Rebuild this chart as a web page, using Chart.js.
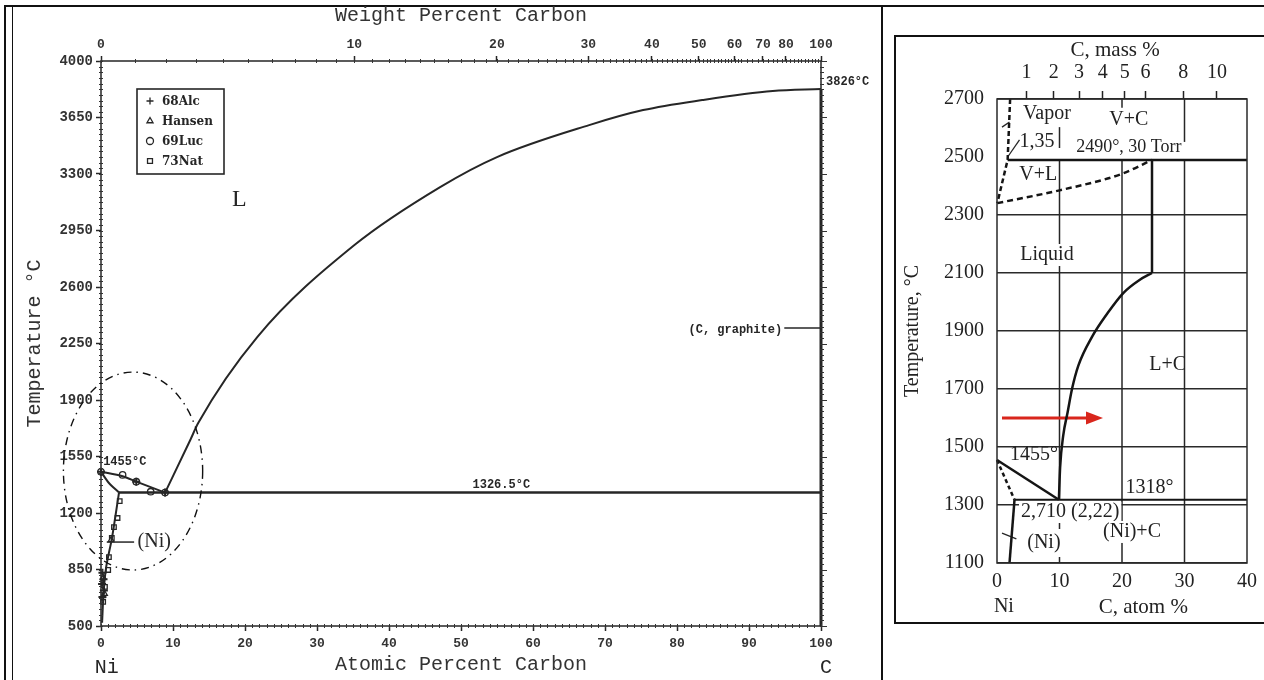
<!DOCTYPE html>
<html>
<head>
<meta charset="utf-8">
<title>Ni–C phase diagram</title>
<script src="https://cdn.jsdelivr.net/npm/chart.js@4.4.1/dist/chart.umd.min.js"></script>
<style>
  html, body { margin: 0; padding: 0; background: #fff; }
  body { width: 1264px; height: 680px; position: relative; overflow: hidden; }
  .rule { position: absolute; background: #111; }
  canvas { position: absolute; }
  #full { left: 14px; top: 0; filter: blur(0.45px); }
  #zoomed { left: 896px; top: 37px; }
  #zoomBox { position: absolute; left: 894px; top: 35px; width: 400px; height: 589px;
             box-sizing: border-box; border: 2px solid #111; border-right: none; }
</style>
</head>
<body>
<div class="rule" style="left:4px;top:5px;width:1260px;height:2px"></div>
<div class="rule" style="left:4px;top:5px;width:2px;height:675px"></div>
<div class="rule" style="left:12px;top:5px;width:1px;height:675px"></div>
<div class="rule" style="left:881px;top:5px;width:2px;height:675px"></div>
<div id="zoomBox"></div>
<canvas id="full" width="866" height="680"></canvas>
<canvas id="zoomed" width="368" height="585"></canvas>
<script>
// ---------- full diagram: atomic % C vs temperature (°C) ----------
const weightTicks = [0, 10, 20, 30, 40, 50, 60, 70, 80, 100];
const NI_MELT = 1455;
const EUTECTIC_FULL = 1326.5;
const GRAPHITE_MELT = 3826;

const liquidusGraphite = [[8.9, EUTECTIC_FULL], [12.4, 1652], [13.5, 1757], [21.7, 2290],
  [35.2, 2860], [47.1, 3219], [55, 3405], [67.8, 3603], [75.3, 3696], [83.5, 3758], [93.3, 3814], [100, GRAPHITE_MELT]];
const liquidusNi = [[0, NI_MELT], [3.0, 1428], [4.9, 1394], [8.9, EUTECTIC_FULL]];
const solidusNi = [[0, NI_MELT], [1.1, 1386], [2.5, EUTECTIC_FULL]];
const solvusNi = [[2.5, EUTECTIC_FULL], [2.0, 1180], [1.5, 1040], [0.7, 860], [0.35, 700], [0.15, 520]];
const eutecticFull = [[2.5, EUTECTIC_FULL], [100, EUTECTIC_FULL]];
const graphiteEdge = [[100, 500], [100, GRAPHITE_MELT]];

// measured points by source
const pts68Alc = [[0, NI_MELT], [4.9, 1394], [8.9, EUTECTIC_FULL], [0.2, 830], [0.35, 790], [0.15, 760], [0.4, 720], [0.2, 680]];
const ptsHansen = [[1.4, 1033], [0.3, 800], [0.5, 700]];
const pts69Luc = [[0, NI_MELT], [3.0, 1436], [4.9, 1394], [6.9, 1332], [8.9, EUTECTIC_FULL]];
const pts73Nat = [[2.6, 1274], [2.3, 1169], [1.8, 1113], [1.5, 1045], [1.1, 927], [1.0, 847], [0.55, 742], [0.3, 650]];

// ---------- enlarged Ni corner: atomic % C vs temperature (°C) ----------
const massTicks = [1, 2, 3, 4, 5, 6, 8, 10];
const EUTECTIC_NI = 1318;
const VAPOR_T = 2490;
const LINE_1600 = 1600;

const liqNiZoom = [[0, NI_MELT], [9.9, EUTECTIC_NI]];
const solNiZoom = [[0, NI_MELT], [2.8, EUTECTIC_NI]];
const solvusZoom = [[2.8, EUTECTIC_NI], [2.0, 1100]];
const eutecticZoom = [[2.8, EUTECTIC_NI], [40, EUTECTIC_NI]];
const liqGraphiteZoom = [[9.9, EUTECTIC_NI], [10.1, 1430], [10.6, 1540], [11.3, 1620], [12.0, 1700], [13.0, 1780],
  [15.2, 1880], [17.7, 1962], [20.2, 2031], [22.8, 2076], [24.8, 2100]];
const graphiteEdgeZoom = [[24.8, 2100], [24.8, VAPOR_T]];
const vaporLineZoom = [[1.7, VAPOR_T], [40, VAPOR_T]];
const vaporBoundZoom = [[2.1, 2700], [1.7, VAPOR_T], [0.05, 2341]];
const vlBoundZoom = [[0.05, 2341], [10, 2385], [20, 2442], [24.8, VAPOR_T]];
const arrowZoom = [[0.8, LINE_1600], [14.4, LINE_1600]];

// mass % C -> atomic % C (Ni 58.69, C 12.011)
const massToAtomic = w => { const c = w / 12.011, n = (100 - w) / 58.69; return 100 * c / (c + n); };

const INK = '#262626';
const MONO = 'Liberation Mono';
const SERIF = 'Liberation Serif';
const plain = v => String(v);

const pts = arr => arr.map(([x, y]) => ({ x, y }));
const curve = (data, extra = {}) => Object.assign({
  data: pts(data), showLine: true, pointRadius: 0, borderColor: INK, borderWidth: 2, clip: false
}, extra);
const marks = (label, data, style, extra = {}) => Object.assign({
  label, data: pts(data), showLine: false, pointStyle: style, pointRadius: 3.2,
  pointBorderColor: INK, pointBackgroundColor: '#fff', pointBorderWidth: 1.3, inLegend: true, clip: false
}, extra);

// extra drawing: guide segments, dash-dot ellipse, text notes, arrow heads, legend, minor ticks
function decor(cfg) {
  return {
    id: 'decor',
    beforeDatasetsDraw(chart) {
      const { ctx } = chart, X = chart.scales.x, Y = chart.scales.y;
      ctx.save();
      (cfg.guides || []).forEach(g => {
        ctx.beginPath();
        ctx.setLineDash(g.dash || []);
        ctx.lineWidth = g.width || 1.5;
        ctx.strokeStyle = g.color || INK;
        ctx.moveTo(X.getPixelForValue(g.x1), Y.getPixelForValue(g.y1));
        ctx.lineTo(X.getPixelForValue(g.x2), Y.getPixelForValue(g.y2));
        ctx.stroke();
      });
      ctx.restore();
    },
    afterDatasetsDraw(chart) {
      const { ctx, chartArea: a } = chart, X = chart.scales.x, Y = chart.scales.y;
      ctx.save();
      // plot frame
      ctx.strokeStyle = cfg.frameColor || INK;
      ctx.lineWidth = cfg.frameWidth || 1.5;
      ctx.strokeRect(a.left, a.top, a.right - a.left, a.bottom - a.top);

      if (cfg.minor) cfg.minor(ctx, chart);

      if (cfg.ellipse) {
        const e = cfg.ellipse;
        const cx = X.getPixelForValue(e.x), cy = Y.getPixelForValue(e.y);
        const rx = X.getPixelForValue(e.x + e.rx) - cx, ry = cy - Y.getPixelForValue(e.y + e.ry);
        ctx.beginPath();
        ctx.setLineDash([8, 5, 1.5, 5]);
        ctx.lineWidth = 1.4;
        ctx.strokeStyle = '#111';
        ctx.ellipse(cx, cy, rx, ry, 0, 0, Math.PI * 2);
        ctx.stroke();
        ctx.setLineDash([]);
      }

      if (cfg.arrowFrom !== undefined) {
        const meta = chart.getDatasetMeta(cfg.arrowFrom);
        const p = meta.data[meta.data.length - 1];
        ctx.beginPath();
        ctx.fillStyle = chart.data.datasets[cfg.arrowFrom].borderColor;
        ctx.moveTo(p.x - 1, p.y - 6.5);
        ctx.lineTo(p.x + 16, p.y);
        ctx.lineTo(p.x - 1, p.y + 6.5);
        ctx.closePath();
        ctx.fill();
      }

      if (cfg.legend) {
        const L = cfg.legend;
        const x0 = a.left + L.dx, y0 = a.top + L.dy;
        ctx.lineWidth = 1.6;
        ctx.strokeStyle = INK;
        ctx.strokeRect(x0, y0, L.w, L.h);
        ctx.font = L.font;
        ctx.textAlign = 'left';
        ctx.textBaseline = 'middle';
        chart.data.datasets.filter(d => d.inLegend).forEach((d, i) => {
          const y = y0 + 12 + i * 20;
          ctx.fillStyle = '#fff';
          ctx.strokeStyle = INK;
          ctx.lineWidth = 1.3;
          Chart.helpers.drawPoint(ctx, { pointStyle: d.pointStyle, radius: 3.5, borderWidth: 1.3, rotation: 0 }, x0 + 13, y);
          ctx.fillStyle = INK;
          ctx.fillText(d.label, x0 + 25, y + 1);
        });
      }

      (cfg.notes || []).forEach(n => {
        ctx.font = n.font;
        ctx.textAlign = n.align || 'center';
        ctx.textBaseline = 'middle';
        const x = X.getPixelForValue(n.x), y = Y.getPixelForValue(n.y);
        if (n.bg) {
          const w = ctx.measureText(n.text).width;
          const left = n.align === 'left' ? x : n.align === 'right' ? x - w : x - w / 2;
          ctx.fillStyle = '#fff';
          ctx.fillRect(left - 2, y - n.bg, w + 4, n.bg * 2);
        }
        ctx.fillStyle = n.color || INK;
        ctx.fillText(n.text, x, y);
      });
      ctx.restore();
    }
  };
}

// fine tick marks of the full diagram
function fullMinorTicks(ctx, chart) {
  const a = chart.chartArea, X = chart.scales.x, Y = chart.scales.y;
  ctx.strokeStyle = '#333';
  ctx.lineWidth = 1;
  ctx.beginPath();
  for (let t = 500; t <= 4000; t += 35) {
    const y = Math.round(Y.getPixelForValue(t)) + 0.5;
    ctx.moveTo(a.left - 2, y); ctx.lineTo(a.left + 2, y);
    ctx.moveTo(a.right - 1, y); ctx.lineTo(a.right + 3, y);
  }
  for (let t = 500; t <= 4000; t += 350) {
    const y = Math.round(Y.getPixelForValue(t)) + 0.5;
    ctx.moveTo(a.right, y); ctx.lineTo(a.right + 6, y);
  }
  for (let c = 0; c <= 100; c += 1) {
    const x = Math.round(X.getPixelForValue(c)) + 0.5;
    ctx.moveTo(x, a.bottom - 2); ctx.lineTo(x, a.bottom + 2);
  }
  let last = -10;
  for (let w = 0; w <= 100; w += 1) {
    const x = X.getPixelForValue(massToAtomic(w));
    if (x - last < 3) continue;
    last = x;
    const xr = Math.round(x) + 0.5;
    ctx.moveTo(xr, a.top - 2); ctx.lineTo(xr, a.top + 2);
  }
  ctx.stroke();
}

const labelFont = `bold 12px "${MONO}"`;
const tickFont = { family: MONO, size: 13, weight: 'bold' };
const yTickFont = { family: MONO, size: 14, weight: 'bold' };

new Chart(document.getElementById('full'), {
  type: 'scatter',
  data: {
    datasets: [
      curve(liquidusGraphite, { cubicInterpolationMode: 'monotone' }),
      curve(liquidusNi, { tension: 0.3 }),
      curve(solidusNi, { tension: 0.3 }),
      curve(solvusNi, { tension: 0.3 }),
      curve(eutecticFull, { borderWidth: 2.5 }),
      curve(graphiteEdge, { borderWidth: 3 }),
      marks('68Alc', pts68Alc, 'cross', { pointRadius: 4, pointBorderWidth: 2 }),
      marks('Hansen', ptsHansen, 'triangle'),
      marks('69Luc', pts69Luc, 'circle'),
      marks('73Nat', pts73Nat, 'rect')
    ]
  },
  options: {
    responsive: false,
    animation: false,
    layout: { padding: { right: 59 } },
    plugins: { legend: { display: false }, tooltip: { enabled: false } },
    scales: {
      x: {
        type: 'linear', position: 'bottom', min: 0, max: 100,
        ticks: { stepSize: 10, padding: 5, maxRotation: 0, color: '#333', font: tickFont, callback: plain },
        grid: { drawOnChartArea: false, tickLength: 5, tickColor: INK, tickWidth: 1.5 },
        border: { display: false },
        title: { display: true, text: 'Atomic Percent Carbon', color: '#333', font: { family: MONO, size: 20 }, padding: { top: 0, bottom: 3 } },
        afterFit: s => { s.height = 54; }
      },
      xw: {
        type: 'linear', axis: 'x', position: 'top', min: 0, max: 100,
        afterBuildTicks: s => { s.ticks = weightTicks.map(w => ({ value: massToAtomic(w) })); },
        ticks: { autoSkip: false, maxRotation: 0, padding: 3, color: '#333', font: tickFont,
                 callback: (v, i) => String(weightTicks[i]) },
        grid: { drawOnChartArea: false, tickLength: 5, tickColor: INK, tickWidth: 1.5 },
        border: { display: false },
        title: { display: true, text: 'Weight Percent Carbon', color: '#333', font: { family: MONO, size: 20 }, padding: { top: 4, bottom: 0 } },
        afterFit: s => { s.height = 61; }
      },
      y: {
        type: 'linear', min: 500, max: 4000,
        ticks: { stepSize: 350, padding: 3, color: '#333', font: yTickFont, callback: plain },
        grid: { drawOnChartArea: false, tickLength: 5, tickColor: INK, tickWidth: 1.5 },
        border: { display: false },
        title: { display: true, text: 'Temperature °C', color: '#333', font: { family: MONO, size: 20 }, padding: { top: 9, bottom: 0 } },
        afterFit: s => { s.width = 87; }
      }
    }
  },
  plugins: [decor({
    minor: fullMinorTicks,
    ellipse: { x: 4.45, y: 1460, rx: 9.67, ry: 613 },
    legend: { dx: 36, dy: 28, w: 87, h: 85, font: `bold 12px "DejaVu Serif"` },
    guides: [
      { x1: 0.8, y1: 1020, x2: 4.6, y2: 1020, width: 1.5 },
      { x1: 94.9, y1: 2346, x2: 100, y2: 2346, width: 1.5 }
    ],
    notes: [
      { text: 'L', x: 19.2, y: 3139, font: `24px "${SERIF}"` },
      { text: `${NI_MELT}°C`, x: 0.3, y: 1516, align: 'left', font: labelFont },
      { text: `${EUTECTIC_FULL}°C`, x: 55.6, y: 1375, font: labelFont },
      { text: '(Ni)', x: 7.4, y: 1020, font: `20px "${SERIF}"` },
      { text: `${GRAPHITE_MELT}°C`, x: 100.7, y: 3870, align: 'left', font: labelFont },
      { text: '(C, graphite)', x: 94.6, y: 2336, align: 'right', font: labelFont },
      { text: 'Ni', x: 0.8, y: 240, font: `20px "${MONO}"` },
      { text: 'C', x: 100.7, y: 240, font: `20px "${MONO}"` }
    ]
  })]
});

// ---------- enlarged corner ----------
const serif20 = { family: SERIF, size: 20 };
const noteFont = `20px "${SERIF}"`;
const BLACK = '#151515';

new Chart(document.getElementById('zoomed'), {
  type: 'scatter',
  data: {
    datasets: [
      curve(liqNiZoom, { borderColor: BLACK, borderWidth: 2.5 }),
      curve(solNiZoom, { borderColor: BLACK, borderWidth: 2.5, borderDash: [4, 3] }),
      curve(solvusZoom, { borderColor: BLACK, borderWidth: 2.5 }),
      curve(eutecticZoom, { borderColor: BLACK, borderWidth: 2 }),
      curve(liqGraphiteZoom, { borderColor: BLACK, borderWidth: 2.5, cubicInterpolationMode: 'monotone' }),
      curve(graphiteEdgeZoom, { borderColor: BLACK, borderWidth: 2.5 }),
      curve(vaporLineZoom, { borderColor: BLACK, borderWidth: 2.5 }),
      curve(vaporBoundZoom, { borderColor: BLACK, borderWidth: 2.5, borderDash: [5, 3] }),
      curve(vlBoundZoom, { borderColor: BLACK, borderWidth: 2.5, borderDash: [6, 4], cubicInterpolationMode: 'monotone' }),
      curve(arrowZoom, { borderColor: '#d9261c', borderWidth: 3 })
    ]
  },
  options: {
    responsive: false,
    animation: false,
    layout: { padding: { right: 11 } },
    plugins: { legend: { display: false }, tooltip: { enabled: false } },
    scales: {
      x: {
        type: 'linear', position: 'bottom', min: 0, max: 40,
        ticks: { stepSize: 10, padding: 7, maxRotation: 0, color: '#222', font: serif20, callback: plain },
        grid: { drawOnChartArea: false, drawTicks: false },
        border: { display: false },
        afterFit: s => { s.height = 59; }
      },
      xm: {
        type: 'linear', axis: 'x', position: 'top', min: 0, max: 40,
        afterBuildTicks: s => { s.ticks = massTicks.map(w => ({ value: massToAtomic(w) })); },
        ticks: { autoSkip: false, maxRotation: 0, padding: 6, color: '#222', font: serif20,
                 callback: (v, i) => String(massTicks[i]) },
        grid: { drawOnChartArea: false, tickLength: 8, tickColor: '#222', tickWidth: 1.5 },
        border: { display: false },
        afterFit: s => { s.height = 62; }
      },
      y: {
        type: 'linear', min: 1100, max: 2700,
        ticks: { stepSize: 200, padding: 13, color: '#222', font: serif20, callback: plain },
        grid: { drawTicks: false, lineWidth: 1.5,
                color: c => (c.tick && c.tick.value === 2500) ? 'rgba(0,0,0,0)' : '#2a2a2a' },
        border: { display: false },
        title: { display: true, text: 'Temperature, °C', color: '#222', font: { family: SERIF, size: 20 }, padding: { top: 5, bottom: 0 } },
        afterFit: s => { s.width = 101; }
      }
    }
  },
  plugins: [decor({
    frameColor: '#2a2a2a',
    arrowFrom: 9,
    guides: [
      { x1: 10, y1: EUTECTIC_NI, x2: 10, y2: VAPOR_T },
      { x1: 10, y1: 1100, x2: 10, y2: EUTECTIC_NI, dash: [6, 11] },
      { x1: 10, y1: 2531, x2: 10, y2: 2603 },
      { x1: 20, y1: 1100, x2: 20, y2: VAPOR_T },
      { x1: 20, y1: 2670, x2: 20, y2: 2700 },
      { x1: 30, y1: 1100, x2: 30, y2: VAPOR_T },
      { x1: 30, y1: 2552, x2: 30, y2: 2700 },
      { x1: 1.7, y1: 2500, x2: 3.6, y2: 2559, width: 1.3 },
      { x1: 0.8, y1: 2603, x2: 2.0, y2: 2621, width: 1.3 },
      { x1: 0.8, y1: 1203, x2: 3.1, y2: 1183, width: 1.3 }
    ],
    notes: [
      { text: 'C, mass %', x: 18.9, y: 2869, font: `21px "${SERIF}"`, color: '#222' },
      { text: 'Vapor', x: 8.0, y: 2648, font: noteFont, color: '#222' },
      { text: 'V+C', x: 21.1, y: 2628, font: noteFont, color: '#222' },
      { text: '1,35', x: 6.4, y: 2552, font: noteFont, color: '#222' },
      { text: `${VAPOR_T}°, 30 Torr`, x: 21.1, y: 2535, font: `18px "${SERIF}"`, color: '#222' },
      { text: 'V+L', x: 6.6, y: 2438, font: noteFont, color: '#222' },
      { text: 'Liquid', x: 8.0, y: 2162, font: noteFont, color: '#222', bg: 11 },
      { text: 'L+C', x: 27.3, y: 1783, font: noteFont, color: '#222' },
      { text: `${NI_MELT}°`, x: 5.9, y: 1473, font: noteFont, color: '#222' },
      { text: `${EUTECTIC_NI}°`, x: 24.4, y: 1359, font: noteFont, color: '#222' },
      { text: '2,710 (2,22)', x: 11.7, y: 1276, font: noteFont, color: '#222', bg: 10 },
      { text: '(Ni)+C', x: 21.6, y: 1207, font: noteFont, color: '#222', bg: 11 },
      { text: '(Ni)', x: 7.5, y: 1169, font: noteFont, color: '#222', bg: 11 },
      { text: 'Ni', x: 1.1, y: 948, font: noteFont, color: '#222' },
      { text: 'C, atom %', x: 23.4, y: 948, font: `21px "${SERIF}"`, color: '#222' }
    ]
  })]
});
</script>
</body>
</html>
